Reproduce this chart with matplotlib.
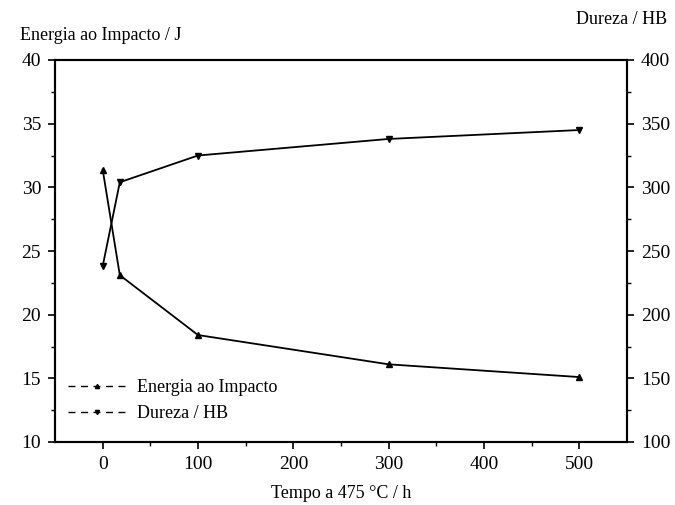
import matplotlib.pyplot as plt
from matplotlib.lines import Line2D

plt.rcParams['font.family'] = ['Liberation Serif', 'DejaVu Serif']

# tempo a 475 C (h)
tempo = [0, 18, 100, 300, 500]
# energia ao impacto (J)
energia = [31.4, 23.1, 18.4, 16.1, 15.1]
# dureza (HB)
dureza = [238, 304, 325, 338, 345]

fig = plt.figure(figsize=(6.75, 5.05), dpi=100)
ax = fig.add_axes([55/675, 1-442/505, 572/675, 382/505])
ax2 = ax.twinx()

ax.plot(tempo, energia, color='black', lw=1.3, marker='^', ms=4)
ax2.plot(tempo, dureza, color='black', lw=1.3, marker='v', ms=4)

ax.set_xlim(-50, 550)
ax.set_ylim(10, 40)
ax2.set_ylim(100, 400)
ax.set_xticks([0, 100, 200, 300, 400, 500])
ax.set_xticks([50, 150, 250, 350, 450], minor=True)
ax.set_yticks([10, 15, 20, 25, 30, 35, 40])
ax.set_yticks([12.5, 17.5, 22.5, 27.5, 32.5, 37.5], minor=True)
ax2.set_yticks([100, 150, 200, 250, 300, 350, 400])
ax2.set_yticks([125, 175, 225, 275, 325, 375], minor=True)

for a in (ax, ax2):
    for s in a.spines.values():
        s.set_linewidth(1.5)
    a.tick_params(which='major', direction='out', length=5, width=1.2,
                  labelsize=14, pad=5)
    a.tick_params(which='minor', direction='out', length=3, width=1.0)

ax.set_xlabel('Tempo a 475 °C / h', fontsize=13, labelpad=9)
fig.text(20/675, 1-36/505, 'Energia ao Impacto / J', fontsize=13, va='center')
fig.text(667/675, 1-20/505, 'Dureza / HB', fontsize=13, va='center', ha='right')

handles = [
    Line2D([], [], color='black', lw=1.0, ls=(0, (5, 4)), marker='^', ms=3),
    Line2D([], [], color='black', lw=1.0, ls=(0, (5, 4)), marker='v', ms=3),
]
ax.legend(handles, ['Energia ao Impacto', 'Dureza / HB'], loc='lower left',
          bbox_to_anchor=(-0.005, 0.01), frameon=False, fontsize=13,
          handlelength=3.2, labelspacing=0.5, handletextpad=0.6)

fig.savefig('out.png', dpi=100)
